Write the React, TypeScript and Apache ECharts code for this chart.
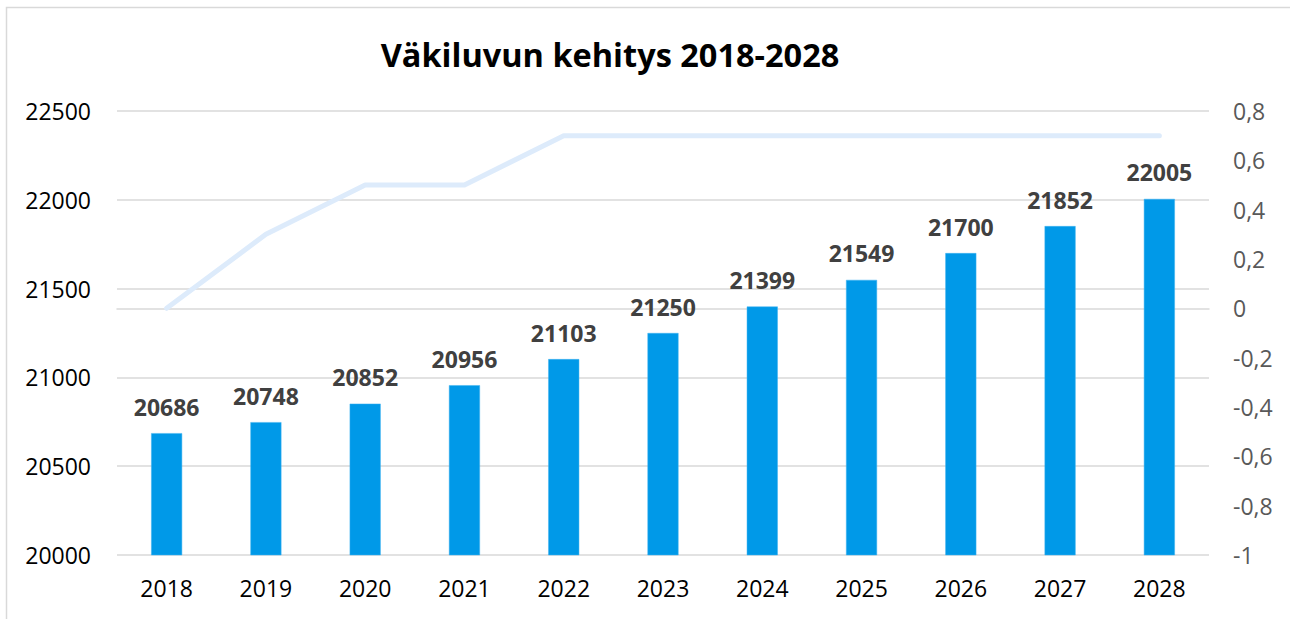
import React, { useEffect, useRef } from "react";
import * as echarts from "echarts";

const years = ["2018", "2019", "2020", "2021", "2022", "2023", "2024", "2025", "2026", "2027", "2028"];
const population = [20686, 20748, 20852, 20956, 21103, 21250, 21399, 21549, 21700, 21852, 22005];
const growth = [0, 0.3, 0.5, 0.5, 0.7, 0.7, 0.7, 0.7, 0.7, 0.7, 0.7];
const titleText = "Väkiluvun kehitys 2018-2028";

export default function App() {
  const ref = useRef<HTMLDivElement>(null);
  useEffect(() => {
    document.body.style.margin = "0";
    const chart = echarts.init(ref.current!, null, { renderer: "svg" });
    const font = "'Open Sans', 'Noto Sans', sans-serif";
    chart.setOption({
      animation: false,
      backgroundColor: "#ffffff",
      textStyle: { fontFamily: font },
      graphic: [
        {
          type: "rect",
          shape: { x: 6.5, y: 7.5, width: 1400, height: 700 },
          style: { fill: "none", stroke: "#d9d9d9", lineWidth: 1.5 },
          silent: true,
        },
        {
          type: "text",
          x: 610,
          y: 54,
          style: {
            text: titleText,
            fontFamily: font,
            fontSize: 32.5,
            fontWeight: "bold",
            fill: "#000000",
            textAlign: "center",
            textVerticalAlign: "middle",
          },
        },
      ],
      grid: { left: 117, right: 81, top: 111, bottom: 64 },
      xAxis: {
        type: "category",
        data: years,
        axisTick: { show: false },
        axisLine: { lineStyle: { color: "#d9d9d9", width: 1.5 } },
        axisLabel: { color: "#000000", fontSize: 23, margin: 21, fontFamily: font },
      },
      yAxis: [
        {
          type: "value",
          min: 20000,
          max: 22500,
          interval: 500,
          axisLine: { show: false },
          axisTick: { show: false },
          splitLine: { lineStyle: { color: "#d9d9d9", width: 1.5 } },
          axisLabel: {
            color: "#000000",
            fontSize: 23,
            margin: 26,
            fontFamily: font,
            formatter: (v: number) => String(v),
          },
        },
        {
          type: "value",
          min: -1,
          max: 0.8,
          interval: 0.2,
          axisLine: { show: false },
          axisTick: { show: false },
          splitLine: { show: false },
          axisLabel: {
            color: "#595959",
            fontSize: 23,
            margin: 24,
            fontFamily: font,
            formatter: (v: number) => String(Math.round(v * 10) / 10).replace(".", ","),
          },
        },
      ],
      series: [
        {
          type: "bar",
          data: population,
          barWidth: 31,
          itemStyle: { color: "#0099e8", borderColor: "#3fb3f0", borderWidth: 0.5 },
          label: {
            show: true,
            position: "top",
            distance: 15,
            color: "#404040",
            fontSize: 23,
            fontWeight: "bold",
            fontFamily: font,
          },
          z: 2,
        },
        {
          type: "line",
          yAxisIndex: 1,
          data: growth,
          symbol: "none",
          lineStyle: { color: "#ddebfb", width: 5, cap: "round", join: "round" },
          z: 1,
        },
      ],
    });
    return () => chart.dispose();
  }, []);
  return <div ref={ref} style={{ width: 1290, height: 619 }} />;
}
